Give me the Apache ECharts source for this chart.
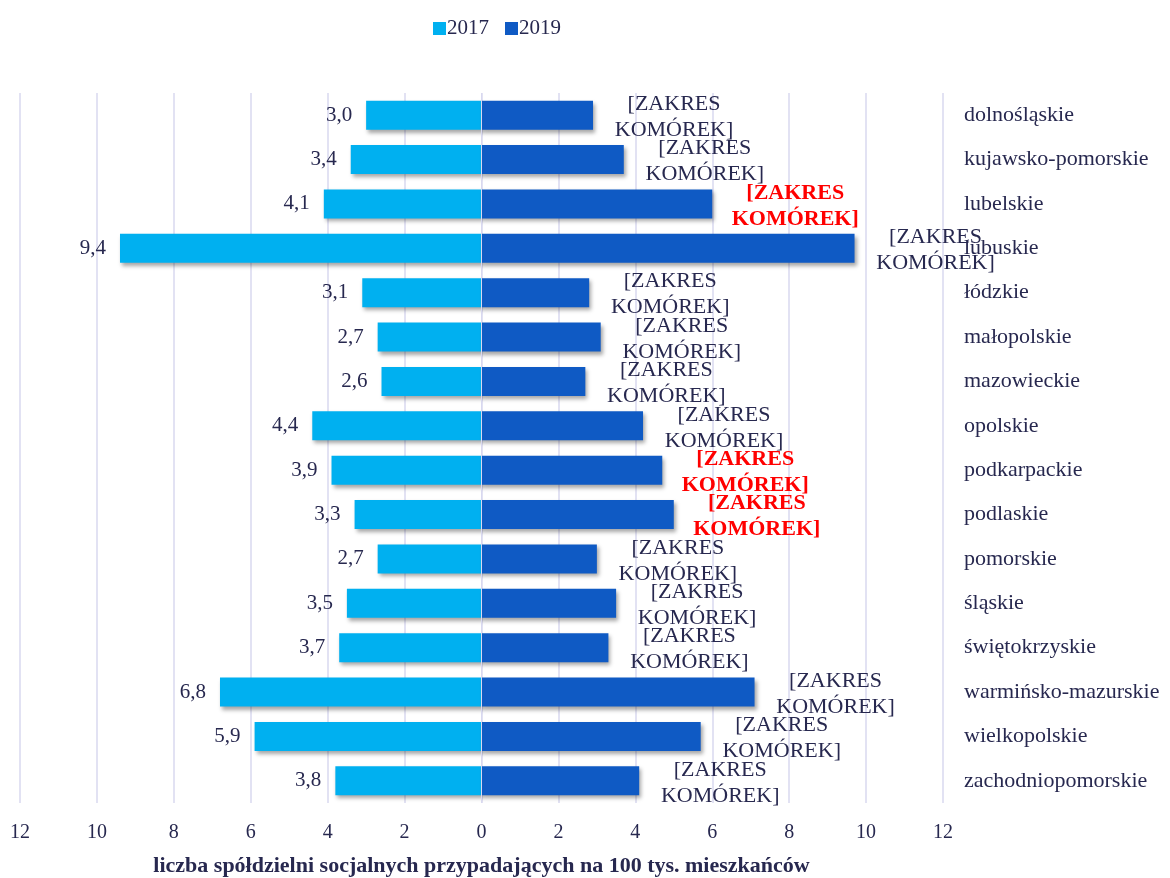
<!DOCTYPE html>
<html><head><meta charset="utf-8">
<script src="https://cdn.jsdelivr.net/npm/echarts@6/dist/echarts.min.js"></script>
<style>html,body{margin:0;padding:0;background:#fff}#c{width:1170px;height:878px}</style>
</head><body><div id="c"></div>
<script>
const categories = ['dolnośląskie','kujawsko-pomorskie','lubelskie','lubuskie','łódzkie','małopolskie','mazowieckie','opolskie','podkarpackie','podlaskie','pomorskie','śląskie','świętokrzyskie','warmińsko-mazurskie','wielkopolskie','zachodniopomorskie'];
const values2017 = [3.0,3.4,4.1,9.4,3.1,2.7,2.6,4.4,3.9,3.3,2.7,3.5,3.7,6.8,5.9,3.8];
const values2019 = [2.9,3.7,6.0,9.7,2.8,3.1,2.7,4.2,4.7,5.0,3.0,3.5,3.3,7.1,5.7,4.1];
const highlighted = ['lubelskie','podkarpackie','podlaskie'];
const labelText2019 = '[ZAKRES\nKOMÓREK]';
const xTicks = [-12,-10,-8,-6,-4,-2,0,2,4,6,8,10,12];

const serif = '"Liberation Serif", "DejaVu Serif", serif';
const textColor = '#27284f';
const shadow = {shadowBlur:4, shadowOffsetX:2, shadowOffsetY:3, shadowColor:'rgba(0,0,0,0.35)'};

const chart = echarts.init(document.getElementById('c'));
chart.setOption({
  animation:false,
  backgroundColor:'#fff',
  textStyle:{fontFamily:serif},
  legend:{
    top:13, left:428, itemWidth:13, itemHeight:13, itemGap:16,
    icon:'rect',
    textStyle:{fontFamily:serif, fontSize:21, color:textColor, padding:[0,0,0,-4]},
    data:['2017','2019']
  },
  grid:{left:20, right:227, top:93, bottom:75, containLabel:false, outerBoundsMode:'none'},
  xAxis:{
    type:'value', min:xTicks[0], max:xTicks[xTicks.length-1], interval:2,
    axisLine:{show:false}, axisTick:{show:false},
    splitLine:{show:true, lineStyle:{color:'#d8d8ef', width:1.5}},
    axisLabel:{formatter:v=>Math.abs(v), fontFamily:serif, fontSize:20, color:textColor, margin:20},
    name:'liczba spółdzielni socjalnych przypadających na 100 tys. mieszkańców',
    nameLocation:'middle', nameGap:52,
    nameTextStyle:{fontFamily:serif, fontSize:22, fontWeight:'bold', color:textColor}
  },
  yAxis:{
    type:'category', data:categories, inverse:true, position:'right',
    axisLine:{show:false}, axisTick:{show:false},
    axisLabel:{align:'left', margin:21, fontFamily:serif, fontSize:22, color:textColor}
  },
  series:[
    {
      name:'2017', type:'bar', barWidth:29, barGap:'-100%',
      itemStyle:Object.assign({color:'#00b0f0'}, shadow),
      data:values2017.map(v=>-v),
      label:{show:true, position:'left', distance:14, fontFamily:serif, fontSize:21, color:textColor,
        formatter:p=>Math.abs(p.value).toFixed(1).replace('.',',')}
    },
    {
      name:'2019', type:'bar', barWidth:29,
      itemStyle:Object.assign({color:'#0f5ac4'}, shadow),
      data:values2019.map((v,i)=>{
        const hi = highlighted.includes(categories[i]);
        return {value:v, label: hi ? {color:'#ff0000', fontWeight:'bold', offset:[83,2]} : {}};
      }),
      label:{show:true, position:'right', distance:0, offset:[81,2], align:'center', verticalAlign:'middle',
        lineHeight:26, fontFamily:serif, fontSize:22, color:textColor, formatter:()=>labelText2019},
      markLine:{silent:true, symbol:'none', label:{show:false},
        lineStyle:{color:'#d8d8ef', width:1, type:'solid'}, data:[{xAxis:0}]}
    }
  ]
});
</script></body></html>
